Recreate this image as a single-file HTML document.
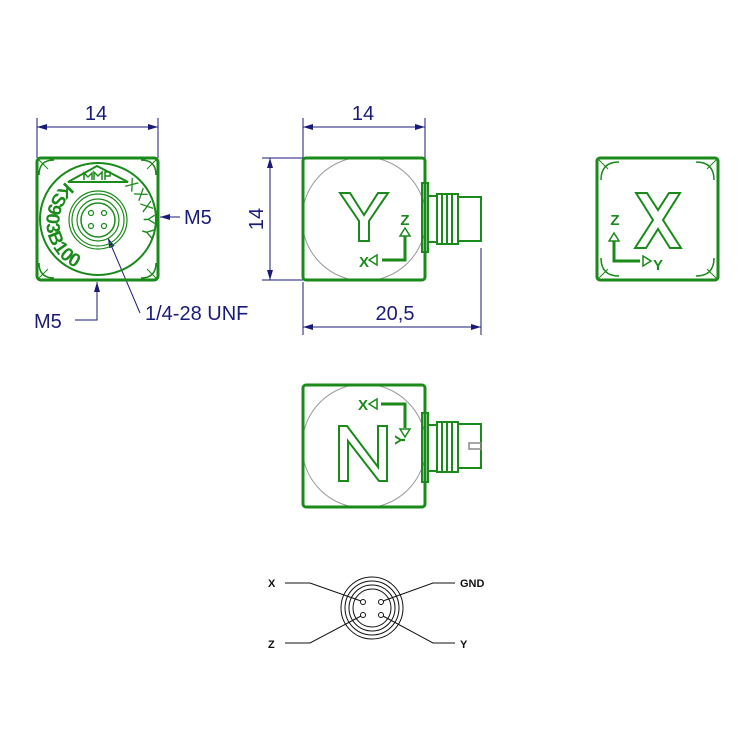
<!DOCTYPE html>
<html><head><meta charset="utf-8"><style>
html,body{margin:0;padding:0;background:#fff;}
svg{display:block;font-family:"Liberation Sans",sans-serif;}
</style></head><body>
<svg width="746" height="746" viewBox="0 0 746 746" xmlns="http://www.w3.org/2000/svg">
<defs>
<marker id="ar" markerWidth="10" markerHeight="6" refX="10" refY="3" orient="auto" markerUnits="userSpaceOnUse"><path d="M0,0 L10,3 L0,6 Z" fill="#1a1a7a"/></marker>
<path id="arcL" d="M66,182 A47,47 0 0 0 128,262"/>
<path id="arcR" d="M124,186 A40,40 0 0 1 122,256"/>
</defs>
<g stroke="#1a1a7a" stroke-width="1" fill="none">
<line x1="37" y1="118" x2="37" y2="158"/><line x1="158" y1="118" x2="158" y2="158"/>
<line x1="37" y1="127" x2="158" y2="127" marker-end="url(#ar)"/><line x1="158" y1="127" x2="37" y2="127" marker-end="url(#ar)"/>
<line x1="180" y1="217" x2="160" y2="217" marker-end="url(#ar)"/>
<polyline points="75,320 97,320 97,282" marker-end="url(#ar)"/>
<line x1="140" y1="313" x2="108" y2="238" marker-end="url(#ar)"/>
<line x1="303" y1="118" x2="303" y2="158"/><line x1="425" y1="118" x2="425" y2="158"/>
<line x1="303" y1="127" x2="425" y2="127" marker-end="url(#ar)"/><line x1="425" y1="127" x2="303" y2="127" marker-end="url(#ar)"/>
<line x1="262" y1="158" x2="303" y2="158"/><line x1="262" y1="280" x2="303" y2="280"/>
<line x1="270" y1="158" x2="270" y2="280" marker-end="url(#ar)"/><line x1="270" y1="280" x2="270" y2="158" marker-end="url(#ar)"/>
<line x1="303" y1="282" x2="303" y2="335"/><line x1="481" y1="248" x2="481" y2="335"/>
<line x1="303" y1="327" x2="481" y2="327" marker-end="url(#ar)"/><line x1="481" y1="327" x2="303" y2="327" marker-end="url(#ar)"/>
</g>
<g fill="#1a1a7a" font-size="20">
<text x="96" y="120" text-anchor="middle">14</text>
<text x="363" y="120" text-anchor="middle">14</text>
<text x="263" y="219" text-anchor="middle" transform="rotate(-90 263 219)">14</text>
<text x="184" y="224">M5</text>
<text x="34" y="328">M5</text>
<text x="145" y="320">1/4-28 UNF</text>
<text x="395" y="320" text-anchor="middle">20,5</text>
</g>

<g stroke="#1a8a1a" fill="none">
<rect x="37" y="158" width="121" height="122" rx="4" stroke-width="3"/>
<path d="M39,175 Q39,160 54,160 M141,160 Q156,160 156,175 M156,263 Q156,278 141,278 M54,278 Q39,278 39,263" stroke-width="1.5"/>
<path d="M38,159 l10,10 M157,159 l-10,10 M157,279 l-10,-10 M38,279 l10,-10" stroke-width="1"/>
<ellipse cx="98" cy="219" rx="58" ry="56" stroke-width="2"/>
<circle cx="98" cy="220" r="29" stroke-width="1.2"/>
<circle cx="98" cy="220" r="26" stroke-width="1.2"/>
<circle cx="98" cy="220" r="21" stroke-width="1.2"/>
<circle cx="98" cy="220" r="17" stroke-width="1.5"/>
<g stroke-width="1.2"><circle cx="91" cy="213" r="2.5"/><circle cx="104" cy="213" r="2.5"/><circle cx="91" cy="226" r="2.5"/><circle cx="104" cy="226" r="2.5"/></g>
<path d="M68,182 L97,166 L128,182 Z" stroke-width="2"/>
<path d="M84,180 v-7 l4,4 l4,-4 v7 M94,180 v-8 l4,4 l4,-4 v8 M105,180 v-8 h5 v4 h-5" stroke-width="1.5"/>
</g>
<g fill="#1a8a1a" font-weight="bold" font-size="19">
<text><textPath href="#arcL">KS903B100</textPath></text>
<text font-size="16" font-weight="normal" letter-spacing="1"><textPath href="#arcR">XXXYY</textPath></text>
</g>

<g stroke="#1a8a1a" fill="none">
<circle cx="364" cy="219" r="62" stroke="#999" stroke-width="1"/>
<rect x="303" y="158" width="122" height="122" rx="3" stroke-width="3"/>
<rect x="422" y="183" width="6" height="69" stroke-width="2"/>
<rect x="428" y="196" width="9" height="46" stroke-width="2"/>
<path d="M437,194 h21 v50 h-21 Z M442,194 v50 M447,194 v50 M452,194 v50" stroke-width="2"/>
<rect x="458" y="197" width="23" height="44" stroke-width="2"/>
<path d="M340,193 h10 l14,22 l14,-22 h10 l-19,28 v20 h-10 v-20 Z" stroke-width="2"/>
<polyline points="405,231 405,260 382,260" stroke-width="3"/>
<path d="M400,236 l5,-8 l5,8 Z M377,255 l-8,5 l8,5 Z" fill="#fff" stroke-width="1.5"/>
</g>
<g fill="#1a8a1a" font-weight="bold" font-size="15" text-anchor="middle">
<text x="405" y="225">Z</text><text x="364" y="267">X</text>
</g>

<g stroke="#1a8a1a" fill="none">
<rect x="597" y="158" width="121" height="122" rx="3" stroke-width="3"/>
<path d="M601,180 Q601,162 619,162 M696,162 Q714,162 714,180 M714,258 Q714,276 696,276 M619,276 Q601,276 601,258" stroke-width="1.5"/>
<path d="M598,159 l10,10 M717,159 l-10,10 M717,279 l-10,-10 M598,279 l10,-10" stroke-width="1"/>
<path d="M636,193 h11 l11,17 l11,-17 h11 l-17,27 l18,28 h-11 l-12,-19 l-12,19 h-11 l18,-28 Z" stroke-width="2"/>
<polyline points="614,236 614,261 640,261" stroke-width="3"/>
<path d="M609,241 l5,-8 l5,8 Z M643,256 l8,5 l-8,5 Z" fill="#fff" stroke-width="1.5"/>
</g>
<g fill="#1a8a1a" font-weight="bold" font-size="15" text-anchor="middle">
<text x="615" y="225">Z</text><text x="658" y="270">Y</text>
</g>

<g stroke="#1a8a1a" fill="none">
<circle cx="364" cy="446" r="62" stroke="#999" stroke-width="1"/>
<rect x="303" y="385" width="122" height="122" rx="3" stroke-width="3"/>
<rect x="422" y="413" width="6" height="69" stroke-width="2"/>
<rect x="428" y="425" width="9" height="46" stroke-width="2"/>
<path d="M437,422 h21 v50 h-21 Z M442,422 v50 M447,422 v50 M452,422 v50" stroke-width="2"/>
<rect x="458" y="424" width="23" height="44" stroke-width="2"/>
<rect x="469" y="443" width="12" height="6" stroke="#888" stroke-width="1.5"/>
<path d="M339,426 h8 l31,41 v-41 h9 v55 h-8 l-31,-40 v40 h-9 Z" stroke-width="2"/>
<polyline points="381,404 405,404 405,428" stroke-width="3"/>
<path d="M377,399 l-8,5 l8,5 Z M400,429 l5,8 l5,-8 Z" fill="#fff" stroke-width="1.5"/>
</g>
<g fill="#1a8a1a" font-weight="bold" font-size="15" text-anchor="middle">
<text x="363" y="410">X</text>
<text x="410" y="447" transform="rotate(-90 404 446)">Y</text>
</g>

<g stroke="#111" fill="none" stroke-width="1">
<circle cx="372" cy="608" r="31"/>
<circle cx="372" cy="608" r="27"/>
<circle cx="372" cy="608" r="23"/>
<circle cx="372" cy="608" r="19"/>
<circle cx="363" cy="602" r="2.5"/><circle cx="381" cy="602" r="2.5"/>
<circle cx="363" cy="615" r="2.5"/><circle cx="381" cy="615" r="2.5"/>
<polyline points="285,583 310,583 361,601"/>
<polyline points="455,583 433,583 383,601"/>
<polyline points="285,643 310,643 361,616"/>
<polyline points="455,643 433,643 383,616"/>
</g>
<g fill="#111" font-weight="bold" font-size="11">
<text x="268" y="587">X</text><text x="460" y="587">GND</text>
<text x="268" y="648">Z</text><text x="460" y="648">Y</text>
</g>
</svg>
</body></html>
